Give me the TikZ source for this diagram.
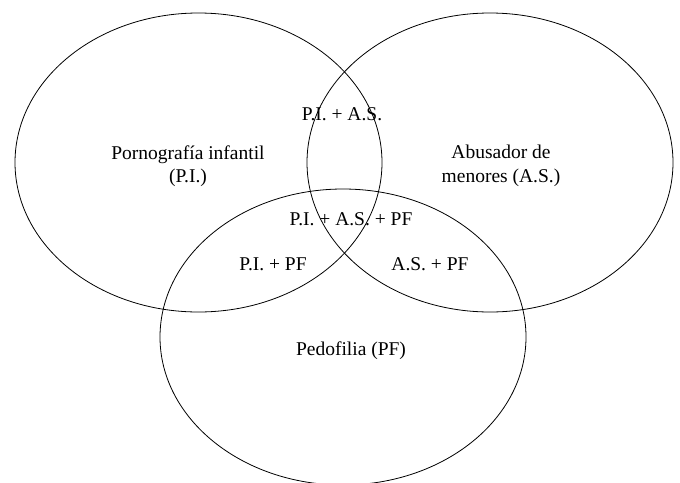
\documentclass[tikz,border=0pt]{standalone}
\usepackage{fontspec}
\setmainfont{Liberation Serif}
\begin{document}
\begin{tikzpicture}[x=1pt,y=-1pt,
  setline/.style={draw=black,line width=0.8pt},
  lbl/.style={font=\fontsize{19.5}{23.5}\selectfont,align=center,inner sep=0pt}]
\useasboundingbox (0,0) rectangle (680,482);
\clip (0,0) rectangle (680,482);
\draw[setline] (198.5,162.5) ellipse [x radius=183.5, y radius=149.5];
\draw[setline] (490,162.5) ellipse [x radius=183, y radius=149.5];
\draw[setline] (343,337) ellipse [x radius=183, y radius=148];
\node[lbl] (pi) at (188,166) {Pornografía infantil\\(P.I.)};
\node[lbl] (as) at (501,166) {Abusador de\\menores (A.S.)};
\node[lbl] (pias) at (342,114) {P.I. + A.S.};
\node[lbl] (all) at (351,219) {P.I. + A.S. + PF};
\node[lbl] (pipf) at (273,264) {P.I. + PF};
\node[lbl] (aspf) at (430,264) {A.S. + PF};
\node[lbl] (pf) at (351,351) {Pedofilia (PF)};
\end{tikzpicture}
\end{document}
